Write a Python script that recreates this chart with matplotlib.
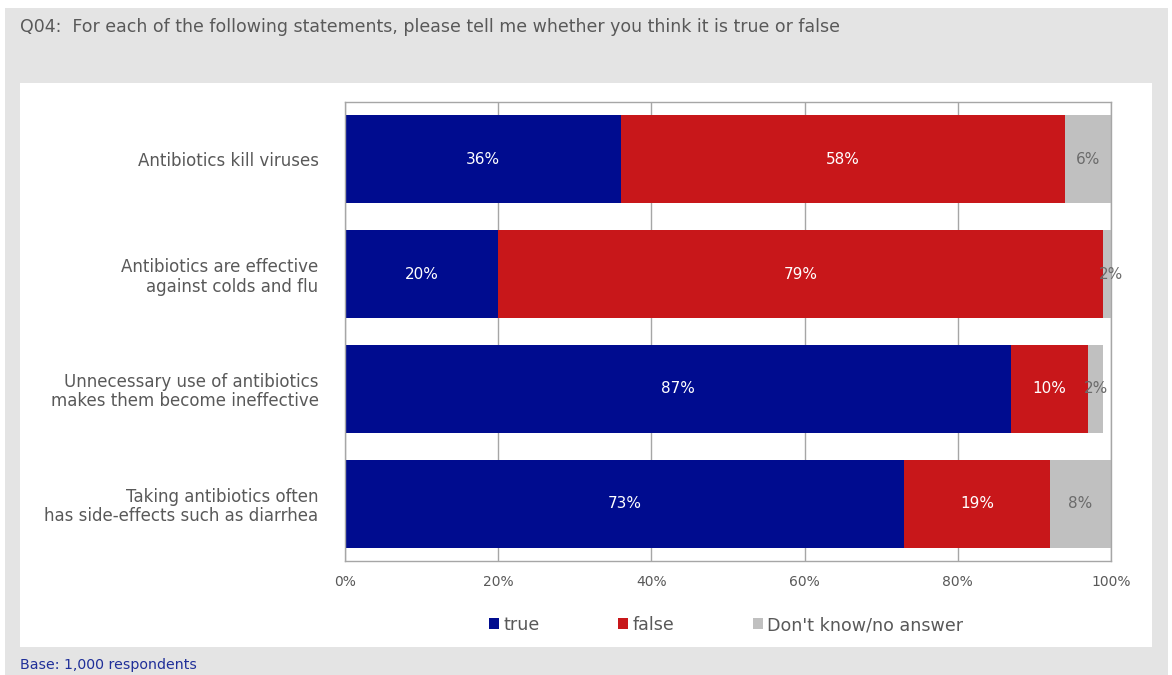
import matplotlib.pyplot as plt
from matplotlib.patches import Rectangle
import numpy as np

# survey results, share of respondents (%)
statements = ['Antibiotics kill viruses',
              'Antibiotics are effective\nagainst colds and flu',
              'Unnecessary use of antibiotics\nmakes them become ineffective',
              'Taking antibiotics often\nhas side-effects such as diarrhea']
true_pct = [36, 20, 87, 73]
false_pct = [58, 79, 10, 19]
dk_pct = [6, 2, 2, 8]
series_names = ['true', 'false', "Don't know/no answer"]

W, H = 1172, 675
fig = plt.figure(figsize=(W / 100, H / 100), dpi=100, facecolor='white')
plt.rcParams['font.family'] = ['DejaVu Sans']

def fx(x):
    return x / W

def fy(y):
    return 1 - y / H

# grey backdrop and the white chart panel
fig.patches.append(Rectangle((fx(5), 0), fx(1168) - fx(5), fy(8), transform=fig.transFigure,
                             facecolor='#e4e4e4', edgecolor='none', zorder=-2))
fig.patches.append(Rectangle((fx(20), fy(647)), fx(1152) - fx(20), fy(83) - fy(647),
                             transform=fig.transFigure, facecolor='white', edgecolor='none', zorder=-1))

fig.text(fx(20), fy(27), 'Q04:  For each of the following statements, please tell me whether you think it is true or false',
         fontsize=12.5, color='#595959', va='center', ha='left')
fig.text(fx(20), fy(665), 'Base: 1,000 respondents', fontsize=10.2, color='#1f2f99', va='center', ha='left')

ax = fig.add_axes([fx(345), fy(561), fx(1111) - fx(345), fy(102) - fy(561)])
ax.set_facecolor('white')

y = np.arange(len(statements))[::-1]
colors = ['#000c8f', '#c8171a', '#c0c0c0']
txt_colors = ['white', 'white', '#6b6b6b']
left = np.zeros(len(statements))
handles = []
for vals, c, tc, name in zip([true_pct, false_pct, dk_pct], colors, txt_colors, series_names):
    vals = np.array(vals, dtype=float)
    b = ax.barh(y, vals, left=left, height=0.767, color=c, label=name, zorder=2)
    handles.append(b)
    for yi, l, v in zip(y, left, vals):
        ax.text(l + v / 2, yi, f'{int(v)}%', color=tc, fontsize=11,
                ha='center', va='center', zorder=3, clip_on=False)
    left += vals

ax.set_xlim(0, 100)
ax.set_ylim(-0.5, 3.5)
ax.set_xticks(np.arange(0, 101, 20))
ax.set_xticklabels([f'{t}%' for t in range(0, 101, 20)])
ax.set_yticks(y)
ax.set_yticklabels(statements, fontsize=12, color='#595959', ha='right', linespacing=1.1)
ax.tick_params(axis='x', length=0, pad=10, labelsize=10, labelcolor='#595959')
ax.tick_params(axis='y', length=0, pad=19)
ax.grid(axis='x', color='#a6a6a6', linewidth=1, zorder=1)
ax.set_axisbelow(True)
for s in ax.spines.values():
    s.set_color('#a6a6a6')
    s.set_linewidth(1)

leg = ax.legend(handles=handles, loc='center', bbox_to_anchor=(fx(726), fy(625)),
                bbox_transform=fig.transFigure, ncol=3, frameon=False,
                handlelength=0.57, handleheight=0.57, handletextpad=0.25,
                columnspacing=4.5, fontsize=12.6)
for t in leg.get_texts():
    t.set_color('#595959')

fig.savefig('out.png', dpi=100, facecolor='white')
